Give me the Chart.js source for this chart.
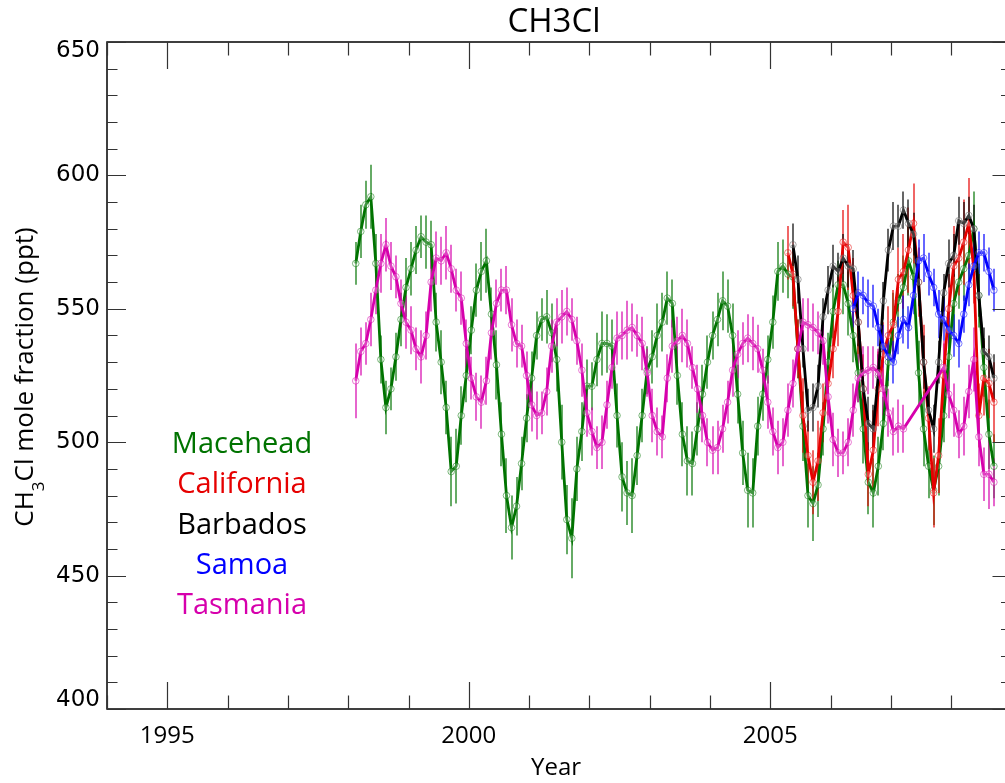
<!DOCTYPE html>
<html><head><meta charset="utf-8">
<script src="https://cdn.jsdelivr.net/npm/chart.js@4.4.1/dist/chart.umd.min.js"></script>
<style>
html,body{margin:0;padding:0;overflow:hidden;background:#fff;width:1005px;height:783px}
canvas{display:block}
</style></head>
<body><canvas id="c" width="1005" height="783" style="width:1005px;height:783px"></canvas>
<script>
// ---- data (monthly means, start = [year, month]) ----
const seriesNames  = ['Macehead','California','Barbados','Samoa','Tasmania'];
const seriesColors = ['#007300','#e60000','#000000','#0000ff','#d600ac'];

const maceheadStart = [1998, 2];
const maceheadValues = [
 567,579,589,592,567,531,513,520,532,546,558,
 565,572,577,575,574,545,530,513,489,491,510,525,
 542,557,564,568,548,529,503,480,468,476,492,509,
 524,540,546,547,541,531,500,471,464,490,504,521,
 521,531,537,537,536,510,487,481,480,495,510,527,
 532,540,545,554,552,525,503,493,492,505,518,530,
 540,546,553,551,540,518,496,482,481,506,518,531,
 545,564,566,563,562,535,506,480,477,484,505,530,
 549,559,559,552,540,526,505,485,481,491,507,530,
 545,553,558,568,562,526,505,491,482,491,510,532,
 552,560,565,570,580,555,528,503,491];
const maceheadErrors = [
 8,10,9,12,11,9,10,8,9,10,11,
 10,9,8,10,9,11,12,10,13,14,11,10,
 9,10,11,12,10,13,12,14,12,11,10,9,
 10,9,8,10,11,12,14,13,15,12,11,10,
 9,10,12,11,10,12,13,12,14,11,10,9,
 10,12,11,10,9,11,12,13,12,10,11,10,
 9,10,11,10,12,11,12,14,13,11,10,9,
 10,11,10,9,12,11,13,12,14,12,10,11,
 10,9,11,12,10,11,13,12,13,11,10,9,
 11,10,12,13,11,12,14,12,13,11,10,12,
 11,10,12,13,14,12,11,13,12];

const californiaStart = [2005, 4];
const californiaValues = [
 571,563,535,510,495,485,493,511,522,
 535,549,575,573,555,545,520,488,497,520,533,540,
 544,561,564,572,582,560,530,509,481,495,525,550,
 566,569,575,582,565,510,524,522,515];
const californiaErrors = [
 10,12,11,14,13,12,15,11,12,
 11,13,12,16,14,12,13,12,15,14,12,11,
 13,12,14,16,15,13,14,12,13,14,12,13,
 15,14,16,17,13,12,14,13,15];

const barbadosStart = [2005, 5];
const barbadosValues = [
 574,561,535,512,513,521,547,557,
 566,564,569,566,565,545,520,507,505,525,553,572,
 581,581,587,582,578,560,530,512,505,530,556,567,
 570,583,582,585,580,555,534,532,524];
const barbadosErrors = [
 8,9,7,8,9,8,7,9,
 8,7,9,8,7,9,8,10,9,8,7,8,
 9,8,7,9,8,9,10,8,9,8,7,9,
 8,9,8,7,9,8,9,8,9];

const samoaStart = [2006, 5];
const samoaValues = [
 550,556,555,552,551,543,536,532,
 530,540,546,543,555,568,569,563,558,548,546,542,
 540,537,548,559,566,571,571,564,557];
const samoaErrors = [
 7,8,7,9,8,7,8,9,
 8,7,9,8,7,8,9,8,7,9,8,7,
 8,9,7,8,9,8,7,9,8];

const tasmaniaStart = [1998, 2];
const tasmaniaValues = [
 523,534,537,546,557,567,574,566,562,552,545,
 542,535,532,540,560,569,568,571,565,557,554,537,
 524,517,515,523,541,552,557,557,544,537,536,525,
 514,510,511,519,536,545,547,549,546,538,527,511,
 504,498,500,514,528,539,540,542,543,540,537,526,
 510,504,502,524,536,538,540,537,528,520,510,500,
 497,498,505,515,527,533,537,539,537,535,527,515,
 504,498,500,512,522,535,545,544,543,541,538,517,
 501,496,496,500,512,524,526,527,528,526,520,511,
 504,506,505,null,null,null,null,null,null,null,528,518,
 512,503,506,519,531,502,488,488,485];
const tasmaniaErrors = [
 14,9,8,10,9,11,10,9,8,9,10,
 9,8,10,9,11,10,9,10,9,8,10,9,
 8,9,10,9,10,9,8,9,10,9,8,9,
 10,9,8,9,10,9,10,9,8,9,10,9,
 9,8,10,9,8,10,9,11,9,8,10,9,
 10,9,8,9,10,9,10,9,8,9,10,9,
 9,10,9,8,10,9,8,9,10,9,8,10,
 9,10,9,10,9,8,9,10,9,8,9,10,
 10,9,8,9,10,9,10,9,8,9,10,9,
 9,10,9,0,0,0,0,0,0,0,10,9,
 10,9,11,10,12,11,10,13,9];

const xTickLabels = [1995, 2000, 2005];
const yTickLabels = [400, 450, 500, 550, 600, 650];
const xRange = [1994, 2009];
const yRange = [400, 650];

// ---- helpers ----
function monthlyPoints(start, values){
  return values.map((v,i)=>{ const m = start[1]-1+i; return {x: start[0] + (m+0.5)/12, y: v}; });
}
function rgba(hex, a){
  const n = parseInt(hex.slice(1),16);
  return `rgba(${(n>>16)&255},${(n>>8)&255},${n&255},${a})`;
}
const seriesData = [
  [maceheadStart, maceheadValues, maceheadErrors, 5],
  [californiaStart, californiaValues, californiaErrors, 4],
  [barbadosStart, barbadosValues, barbadosErrors, 3],
  [samoaStart, samoaValues, samoaErrors, 2],
  [tasmaniaStart, tasmaniaValues, tasmaniaErrors, 1]
];
const datasets = seriesData.map((s,i)=>({
  label: seriesNames[i],
  data: monthlyPoints(s[0], s[1]),
  errors: s[2],
  order: s[3],
  borderColor: seriesColors[i],
  borderWidth: 2.8,
  pointRadius: 3.3,
  pointBorderWidth: 1,
  pointBorderColor: rgba(seriesColors[i] === '#000000' ? '#555555' : seriesColors[i], 0.5),
  pointBackgroundColor: 'rgba(255,255,255,0.25)',
  spanGaps: true,
  tension: 0,
  fill: false
}));

// ---- plugins ----
// the original plot box runs slightly past the right edge of the picture
const extendPlot = {
  id: 'extendPlot',
  afterLayout(chart){
    const xs = chart.scales.x;
    const r = chart.width + 6.5;
    chart.chartArea.right = r;
    chart.chartArea.width = r - chart.chartArea.left;
    xs.right = r;
    xs.width = r - xs.left;
    xs.configure();
  }
};

const errorBars = {
  id: 'errorBars',
  beforeDatasetsDraw(chart){
    const ctx = chart.ctx, ys = chart.scales.y, xs = chart.scales.x;
    ctx.save();
    chart.data.datasets.slice().sort((a,b)=>b.order-a.order).forEach(ds=>{
      ctx.strokeStyle = rgba(ds.borderColor, 0.6);
      ctx.lineWidth = 2;
      ds.data.forEach((p,j)=>{
        if (p.y == null) return;
        const e = ds.errors[j];
        const px = Math.round(xs.getPixelForValue(p.x));
        ctx.beginPath();
        ctx.moveTo(px, ys.getPixelForValue(p.y - e));
        ctx.lineTo(px, ys.getPixelForValue(p.y + e));
        ctx.stroke();
      });
    });
    ctx.restore();
  }
};

const frame = {
  id: 'frame',
  afterDatasetsDraw(chart){
    const ctx = chart.ctx, a = chart.chartArea, xs = chart.scales.x, ys = chart.scales.y;
    ctx.save();
    ctx.strokeStyle = '#000';
    ctx.lineWidth = 1.5;
    ctx.strokeRect(a.left, a.top, a.right - a.left, a.bottom - a.top);
    ctx.strokeStyle = '#333';
    ctx.lineWidth = 1.2;
    ctx.beginPath();
    for (let yr = xRange[0]; yr <= xRange[1]; yr++){
      const px = Math.round(xs.getPixelForValue(yr)) + 0.5;
      const len = (yr % 5 === 0) ? 27 : 13.5;
      ctx.moveTo(px, a.bottom); ctx.lineTo(px, a.bottom - len);
      ctx.moveTo(px, a.top); ctx.lineTo(px, a.top + len);
    }
    for (let v = yRange[0]; v <= yRange[1]; v += 10){
      const py = Math.round(ys.getPixelForValue(v)) + 0.5;
      const len = (v % 50 === 0) ? 19 : 10.5;
      ctx.moveTo(a.left, py); ctx.lineTo(a.left + len, py);
      ctx.moveTo(a.right, py); ctx.lineTo(a.right - len, py);
    }
    ctx.stroke();
    // y tick labels (end labels kept inside the frame, as in the original)
    ctx.fillStyle = '#000';
    ctx.font = '23px "DejaVu Sans"';
    ctx.textAlign = 'right';
    ctx.textBaseline = 'middle';
    yTickLabels.forEach(v=>{
      let py = ys.getPixelForValue(v);
      if (v === yRange[1]) py += 9;
      if (v === yRange[0]) py -= 9;
      ctx.fillText(String(v), a.left - 7, py);
    });
    ctx.restore();
  }
};

const texts = {
  id: 'texts',
  afterDraw(chart){
    const ctx = chart.ctx;
    ctx.save();
    ctx.fillStyle = '#000';
    ctx.textAlign = 'center';
    ctx.textBaseline = 'middle';
    ctx.font = '33px "Open Sans"';
    ctx.fillText('CH3Cl', 554, 23);
    ctx.font = '24px "Open Sans"';
    ctx.fillText('Year', 556, 768);
    // y title with subscript
    ctx.translate(28, 377);
    ctx.rotate(-Math.PI/2);
    ctx.textAlign = 'left';
    ctx.textBaseline = 'alphabetic';
    const big = '26px "Open Sans"', small = '17px "Open Sans"';
    ctx.font = big; const w1 = ctx.measureText('CH').width;
    const w3 = ctx.measureText('Cl mole fraction (ppt)').width;
    ctx.font = small; const w2 = ctx.measureText('3').width;
    let x0 = -(w1 + w2 + w3)/2;
    const base = 5;
    ctx.font = big; ctx.fillText('CH', x0, base); x0 += w1;
    ctx.font = small; ctx.fillText('3', x0, base + 11); x0 += w2;
    ctx.font = big; ctx.fillText('Cl mole fraction (ppt)', x0, base);
    ctx.restore();
    // legend text from datasets
    ctx.save();
    ctx.textAlign = 'center';
    ctx.textBaseline = 'middle';
    ctx.font = '29px "Open Sans"';
    chart.data.datasets.forEach((ds,i)=>{
      ctx.fillStyle = ds.borderColor;
      ctx.fillText(ds.label, 242, 445 + i*40.2);
    });
    ctx.restore();
  }
};

new Chart(document.getElementById('c').getContext('2d'), {
  type: 'line',
  data: { datasets },
  options: {
    responsive: false,
    animation: false,
    devicePixelRatio: 1,
    layout: { padding: { top: 42, right: 0, left: 0, bottom: 0 } },
    plugins: { legend: { display: false }, tooltip: { enabled: false }, title: { display: false } },
    scales: {
      x: {
        type: 'linear', min: xRange[0], max: xRange[1],
        afterFit(s){ s.height = 74; },
        grid: { display: false, drawTicks: false },
        border: { display: false },
        ticks: { stepSize: 1, autoSkip: false, maxRotation: 0, padding: 13, color: '#000',
                 font: { family: 'Open Sans', size: 24 },
                 callback: v => xTickLabels.includes(v) ? String(v) : '' }
      },
      y: {
        type: 'linear', min: yRange[0], max: yRange[1],
        afterFit(s){ s.width = 107; },
        grid: { display: false, drawTicks: false },
        border: { display: false },
        ticks: { display: false, stepSize: 10 }
      }
    }
  },
  plugins: [extendPlot, errorBars, frame, texts]
});
</script>
</body></html>
